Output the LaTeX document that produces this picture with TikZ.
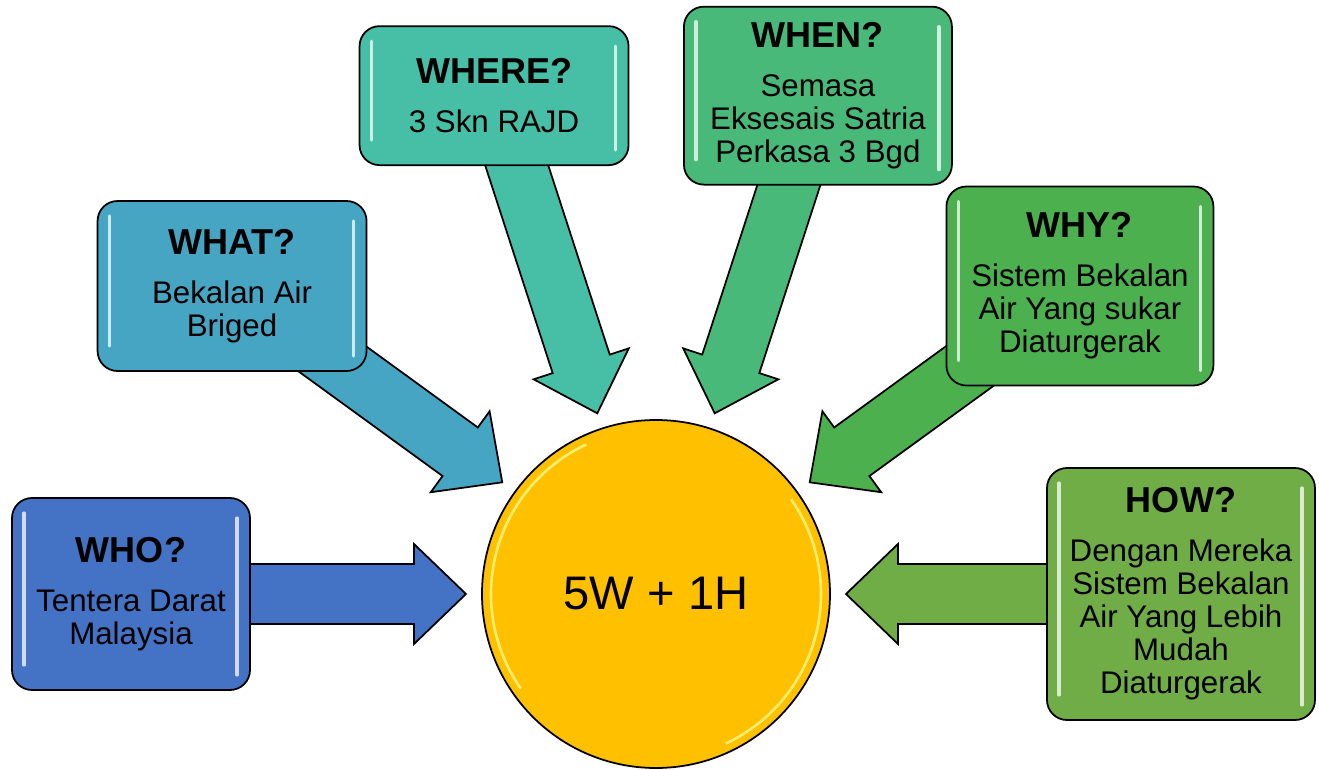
\documentclass[tikz,border=0pt]{standalone}
\usepackage{fontspec}
\setmainfont{Liberation Sans}
\usepackage{xcolor}
\usepackage{tikz}
\usetikzlibrary{calc,backgrounds}

\definecolor{whocol}{HTML}{4472C4}
\definecolor{whatcol}{HTML}{46A5C2}
\definecolor{wherecol}{HTML}{47BEA6}
\definecolor{whencol}{HTML}{49B97A}
\definecolor{whycol}{HTML}{4CB04F}
\definecolor{howcol}{HTML}{70AD47}
\definecolor{hubcol}{HTML}{FFC000}

\newcommand{\bodyfont}{\fontsize{17.8}{18.8}\selectfont}
\newcommand{\headfont}{\fontsize{20.5}{22}\selectfont\bfseries}

\begin{document}
\begin{tikzpicture}
        % Define styles
        \tikzset{
            question/.style={rectangle, rounded corners=0.4cm, draw=black, line width=1pt, align=center, font=\bodyfont,
                path picture={
                    \draw[white, opacity=0.75, line width=1.8pt, line cap=round]
                        ([xshift=0.24cm, yshift=-0.3cm]path picture bounding box.north west) -- ([xshift=0.24cm, yshift=0.5cm]path picture bounding box.south west)
                        ([xshift=-0.26cm, yshift=-0.4cm]path picture bounding box.north east) -- ([xshift=-0.26cm, yshift=0.3cm]path picture bounding box.south east);
                }},
            hub/.style={circle, draw=black, line width=1pt, fill=hubcol, minimum size=6.96cm, inner sep=0pt, font=\fontsize{26.8}{30}\selectfont,
                path picture={
                    \draw[yellow!45!white, opacity=0.8, line width=1.5pt]
                        ($(path picture bounding box.center)+(115:3.3)$) arc[start angle=115, end angle=215, radius=3.3];
                    \draw[yellow!45!white, opacity=0.8, line width=1.5pt]
                        ($(path picture bounding box.center)+(-65:3.3)$) arc[start angle=-65, end angle=35, radius=3.3];
                }},
            bigarrow/.style={draw=black, line width=1pt, line join=miter,
                to path={let \p1=(\tikztostart), \p2=(\tikztotarget),
                    \n1={atan2(\y2-\y1,\x2-\x1)}, \n2={veclen(\x2-\x1,\y2-\y1)} in
                    [shift={(\p1)}, rotate=\n1]
                    (0cm,-0.6cm) -- (\n2-1.04cm,-0.6cm) -- (\n2-1.04cm,-1cm) -- (\n2,0cm)
                    -- (\n2-1.04cm,1cm) -- (\n2-1.04cm,0.6cm) -- (0cm,0.6cm) -- cycle}}
        }

        \useasboundingbox (-13.12,-3.50) rectangle (13.26,11.88);

        % Nodes
        \node[hub] (hub_node) at (0,0) {5W + 1H};
        \node[question, fill=whocol, minimum width=4.76cm, minimum height=3.84cm] (who_node) at (180:10.5)
            {{\headfont WHO?}\\[9.1pt] Tentera Darat\\ Malaysia};
        \node[question, fill=whatcol, minimum width=5.38cm, minimum height=3.4cm] (what_node) at (144:10.48)
            {{\headfont WHAT?}\\[9.1pt] Bekalan Air\\ Briged};
        \node[question, fill=wherecol, minimum width=5.38cm, minimum height=2.78cm] (where_node) at (108:10.48)
            {{\headfont WHERE?}\\[9.1pt] 3 Skn RAJD};
        \node[question, fill=whencol, minimum width=5.36cm, minimum height=3.56cm] (when_node) at (72:10.48)
            {{\headfont WHEN?}\\[9.1pt] Semasa\\ Eksesais Satria\\ Perkasa 3 Bgd};
        \node[question, fill=whycol, minimum width=5.34cm, minimum height=3.98cm] (why_node) at (36:10.48)
            {{\headfont WHY?}\\[9.1pt] Sistem Bekalan\\ Air Yang sukar\\ Diaturgerak};
        \node[question, fill=howcol, minimum width=5.36cm, minimum height=5.04cm] (how_node) at (0:10.5)
            {{\headfont HOW?}\\[9.1pt] Dengan Mereka\\ Sistem Bekalan\\ Air Yang Lebih\\ Mudah\\ Diaturgerak};

        % Arrow tips
        \coordinate (who_tip) at ($(hub_node.center)!3.8cm!(who_node.center)$);
        \coordinate (what_tip) at ($(hub_node.center)!3.8cm!(what_node.center)$);
        \coordinate (where_tip) at ($(hub_node.center)!3.8cm!(where_node.center)$);
        \coordinate (when_tip) at ($(hub_node.center)!3.8cm!(when_node.center)$);
        \coordinate (why_tip) at ($(hub_node.center)!3.8cm!(why_node.center)$);
        \coordinate (how_tip) at ($(hub_node.center)!3.8cm!(how_node.center)$);

        % Arrows
        \begin{pgfonlayer}{background}
            \draw[bigarrow, fill=whocol] (who_node) to (who_tip);
            \draw[bigarrow, fill=whatcol] (what_node) to (what_tip);
            \draw[bigarrow, fill=wherecol] (where_node) to (where_tip);
            \draw[bigarrow, fill=whencol] (when_node) to (when_tip);
            \draw[bigarrow, fill=whycol] (why_node) to (why_tip);
            \draw[bigarrow, fill=howcol] (how_node) to (how_tip);
        \end{pgfonlayer}
    \end{tikzpicture}
\end{document}
